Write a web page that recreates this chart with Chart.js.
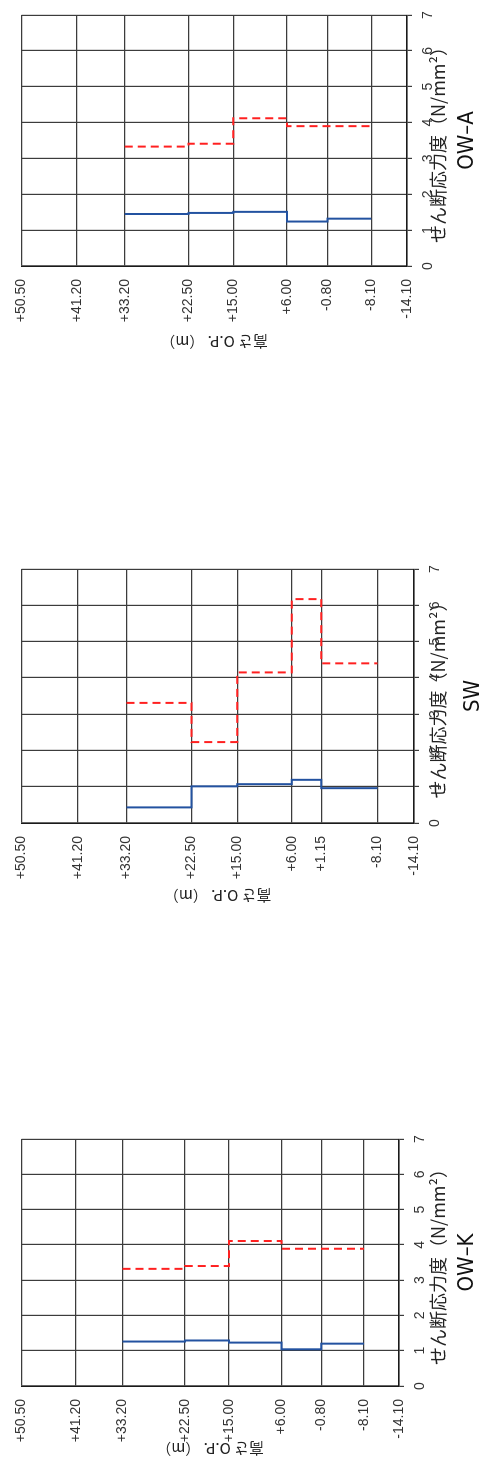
<!DOCTYPE html>
<html>
<head>
<meta charset="utf-8">
<script src="https://cdn.jsdelivr.net/npm/chart.js@4"></script>
<style>
html, body { margin: 0; padding: 0; background: #fff; overflow: hidden; }
/* the sheet is drawn lying on its side, like the scanned page */
#sheet { position: absolute; left: 0; top: 0; width: 1472px; height: 493px;
         transform-origin: 0 0; transform: translate(0, 1472px) rotate(-90deg); }
#sheet canvas { position: absolute; top: 0; }
</style>
</head>
<body>
<div id="sheet">
  <canvas id="owk"></canvas>
  <canvas id="sw"></canvas>
  <canvas id="owa"></canvas>
</div>
<script>
// せん断応力度の目盛 (N/mm2)
const stressTicks = [0, 1, 2, 3, 4, 5, 6, 7];

// OW-K
const owkLevels = [50.5, 41.2, 33.2, 22.5, 15.0, 6.0, -0.8, -8.1, -14.1];
const owkBounds = [33.2, 22.5, 15.0, 6.0, -0.8, -8.1];
const owkAllowable = [3.32, 3.40, 4.11, 3.89, 3.89];
const owkActing = [1.26, 1.29, 1.23, 1.04, 1.20];

// SW
const swLevels = [50.5, 41.2, 33.2, 22.5, 15.0, 6.0, 1.15, -8.1, -14.1];
const swBounds = [33.2, 22.5, 15.0, 6.0, 1.15, -8.1];
const swAllowable = [3.31, 2.23, 4.15, 6.17, 4.40];
const swActing = [0.43, 1.01, 1.07, 1.19, 0.96];

// OW-A
const owaLevels = [50.5, 41.2, 33.2, 22.5, 15.0, 6.0, -0.8, -8.1, -14.1];
const owaBounds = [33.2, 22.5, 15.0, 6.0, -0.8, -8.1];
const owaAllowable = [3.33, 3.41, 4.12, 3.90, 3.90];
const owaActing = [1.45, 1.48, 1.51, 1.24, 1.32];

// where each plot sits on the (unrotated) sheet
const H = 493, YW = 100, PR = 12;
const AXIS_TITLE_Y = 438;
const layouts = {
    owk: { left: 86, right: 333, top: 20, bottom: 399, yTitleGap: 63, nameY: 467 },
    sw:  { left: 649, right: 903, top: 21, bottom: 414, yTitleGap: 73, nameY: 473 },
    owa: { left: 1206, right: 1457, top: 20, bottom: 407, yTitleGap: 76, nameY: 467 }
};

// step line: each layer is a constant value between two levels
function stepPoints(bounds, vals) {
    const pts = [];
    vals.forEach((v, i) => {
        pts.push({ x: v, y: bounds[i] });
        pts.push({ x: v, y: bounds[i + 1] });
    });
    return pts;
}

function fmtLevel(v) {
    return (v > 0 ? '+' : '') + Number(v).toFixed(2);
}

function makeChart(id, name, levels, bounds, allowable, acting) {
    const lay = layouts[id];
    const canvas = document.getElementById(id);
    const w = lay.right - lay.left + YW + PR;
    canvas.width = w;
    canvas.height = H;
    canvas.style.left = (lay.left - YW) + 'px';
    canvas.style.width = w + 'px';
    canvas.style.height = H + 'px';

    const nameSize = 22, nameLH = nameSize * 1.2;
    const namePad = H - lay.nameY - nameLH / 2;
    const nameBox = nameLH + namePad;
    const xAxisH = H - lay.bottom - nameBox;
    const xTitleSize = 18;
    const xTitlePad = (H - nameBox) - AXIS_TITLE_Y - xTitleSize * 1.2 / 2;
    const yTitleSize = 15;
    const yTitlePad = YW - lay.yTitleGap - yTitleSize * 1.2 / 2;

    new Chart(canvas.getContext('2d'), {
        type: 'scatter',
        data: {
            datasets: [{
                label: '許容せん断応力度',
                data: stepPoints(bounds, allowable),
                showLine: true,
                borderColor: '#ff2020',
                borderWidth: 2,
                borderDash: [8, 5],
                pointRadius: 0
            }, {
                label: 'せん断応力度',
                data: stepPoints(bounds, acting),
                showLine: true,
                borderColor: '#2352a0',
                borderWidth: 2,
                pointRadius: 0
            }]
        },
        options: {
            responsive: false,
            animation: false,
            events: [],
            layout: { padding: { top: lay.top, right: PR, bottom: 0, left: 0 } },
            plugins: {
                legend: { display: false },
                tooltip: { enabled: false },
                title: {
                    display: true,
                    text: name,
                    position: 'bottom',
                    fullSize: false,
                    color: '#111',
                    font: { family: "'Liberation Sans Narrow', 'DejaVu Sans Condensed', 'Liberation Sans'", size: nameSize, weight: 'normal' },
                    padding: { top: 0, bottom: namePad }
                }
            },
            scales: {
                x: {
                    type: 'linear',
                    position: 'bottom',
                    min: stressTicks[0],
                    max: stressTicks[stressTicks.length - 1],
                    afterBuildTicks: s => { s.ticks = stressTicks.map(v => ({ value: v })); },
                    afterFit: s => { s.height = xAxisH; },
                    ticks: {
                        padding: 8,
                        color: '#333',
                        font: { family: "'Liberation Sans'", size: 14 }
                    },
                    grid: { color: '#3c3c3c', lineWidth: 1.2, tickLength: 5 },
                    border: { color: '#1a1a1a', width: 1.6 },
                    title: {
                        display: true,
                        text: 'せん断応力度（N/mm²）',
                        color: '#222',
                        font: { family: "'Noto Sans CJK JP'", size: xTitleSize },
                        padding: { top: 0, bottom: xTitlePad }
                    }
                },
                y: {
                    type: 'linear',
                    min: levels[levels.length - 1],
                    max: levels[0],
                    afterBuildTicks: s => { s.ticks = levels.map(v => ({ value: v })); },
                    afterFit: s => { s.width = YW; },
                    ticks: {
                        autoSkip: false,
                        padding: 13,
                        color: '#333',
                        font: { family: "'Liberation Sans'", size: 14 },
                        callback: v => fmtLevel(v)
                    },
                    grid: { color: '#3c3c3c', lineWidth: 1.2, drawTicks: false },
                    border: { color: '#1a1a1a', width: 1.6 },
                    title: {
                        display: true,
                        text: '高さ O.P. （m）',
                        color: '#222',
                        font: { family: "'Noto Sans CJK JP'", size: yTitleSize },
                        padding: { top: yTitlePad, bottom: 0 }
                    }
                }
            }
        }
    });
}

makeChart('owk', 'OW–K', owkLevels, owkBounds, owkAllowable, owkActing);
makeChart('sw', 'SW', swLevels, swBounds, swAllowable, swActing);
makeChart('owa', 'OW–A', owaLevels, owaBounds, owaAllowable, owaActing);
</script>
</body>
</html>
